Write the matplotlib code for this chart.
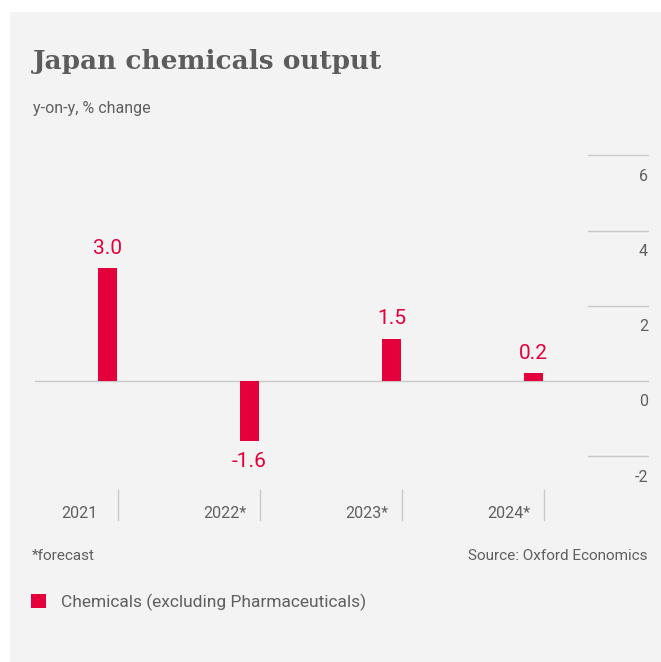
import matplotlib
matplotlib.use("Agg")
import matplotlib.pyplot as plt
import matplotlib.transforms as mtransforms
from matplotlib.patches import Rectangle

# data (bar heights as drawn in the picture; labels as printed)
years = ["2021", "2022*", "2023*", "2024*"]
values = [3.0, -1.6, 1.12, 0.2]
value_labels = ["3.0", "-1.6", "1.5", "0.2"]
yticks = [-2, 0, 2, 4, 6]

red = "#e4003b"
grey_txt = "#5f5f5f"
bg = "#f3f3f3"

plt.rcParams["font.family"] = ["Roboto", "DejaVu Sans"]

W, H = 661, 662
fig = plt.figure(figsize=(W / 100, H / 100), dpi=100)
fig.patch.set_facecolor(bg)
# white strips on left and top only
fig.patches.append(Rectangle((0, 0), 10 / W, 1, transform=fig.transFigure,
                             facecolor="white", edgecolor="none", zorder=-10))
fig.patches.append(Rectangle((0, 1 - 12 / H), 1, 12 / H, transform=fig.transFigure,
                             facecolor="white", edgecolor="none", zorder=-10))

def fx(px):
    return px / W

def fy(py):
    return 1 - py / H

top_px, bot_px = 140, 480
ax = fig.add_axes([fx(35), fy(bot_px), fx(649) - fx(35), fy(top_px) - fy(bot_px)])
ax.set_facecolor("none")
ppu = 37.6
ax.set_ylim(-(bot_px - 381) / ppu, (381 - top_px) / ppu)
step = 142
ax.set_xlim((35 - 107.5) / step, (649 - 107.5) / step)
for s in ax.spines.values():
    s.set_visible(False)
ax.set_xticks([])
ax.set_yticks([])

xs = list(range(len(years)))
ax.bar(xs, values, width=19 / step, color=red, zorder=3)

# value labels
for x, v, lab in zip(xs, values, value_labels):
    off = 20 / ppu
    if v >= 0:
        ax.text(x, v + off, lab, ha="center", va="center", color=red, fontsize=15)
    else:
        ax.text(x, v - off, lab, ha="center", va="center", color=red, fontsize=15)

# grid: zero line full, others short on the right
x_short = (588 - 107.5) / step
xr = (649 - 107.5) / step
for t in yticks:
    if t == 0:
        ax.axhline(0, color="#c9c9c9", lw=1, zorder=1)
    else:
        ax.plot([x_short, xr], [t, t], color="#c9c9c9", lw=1, zorder=1)
    ax.text(xr - 1 / step, t - 21 / ppu, str(t), ha="right", va="center",
            color=grey_txt, fontsize=11.5)

# category separators and labels below the axes
tr = mtransforms.blended_transform_factory(ax.transData, fig.transFigure)
for x, lab in zip(xs, years):
    sx = x + 10.5 / step
    ax.plot([sx, sx], [fy(490), fy(520)], color="#c9c9c9", lw=1,
            transform=tr, clip_on=False)
    pad = 14 if lab.endswith("*") else 21
    ax.text(sx - pad / step, fy(514), lab, ha="right", va="center",
            color=grey_txt, fontsize=11.5, transform=tr)

# titles and notes
fig.text(fx(33), fy(62), "Japan chemicals output", ha="left", va="center",
         fontsize=19, fontweight="bold", family="DejaVu Serif", color="#5c5c5c")
fig.text(fx(33), fy(109), "y-on-y, % change", ha="left", va="center",
         fontsize=11.5, color=grey_txt)
fig.text(fx(32), fy(556), "*forecast", ha="left", va="center",
         fontsize=11, color=grey_txt)
fig.text(fx(648), fy(556), "Source: Oxford Economics", ha="right", va="center",
         fontsize=11, color=grey_txt)

# legend
fig.patches.append(Rectangle((fx(31), fy(608)), fx(46) - fx(31), fy(594) - fy(608),
                             transform=fig.transFigure, facecolor=red, edgecolor="none"))
fig.text(fx(61), fy(602), "Chemicals (excluding Pharmaceuticals)", ha="left", va="center",
         fontsize=12.5, color=grey_txt)

fig.savefig("out.png", dpi=100, facecolor=fig.get_facecolor())
